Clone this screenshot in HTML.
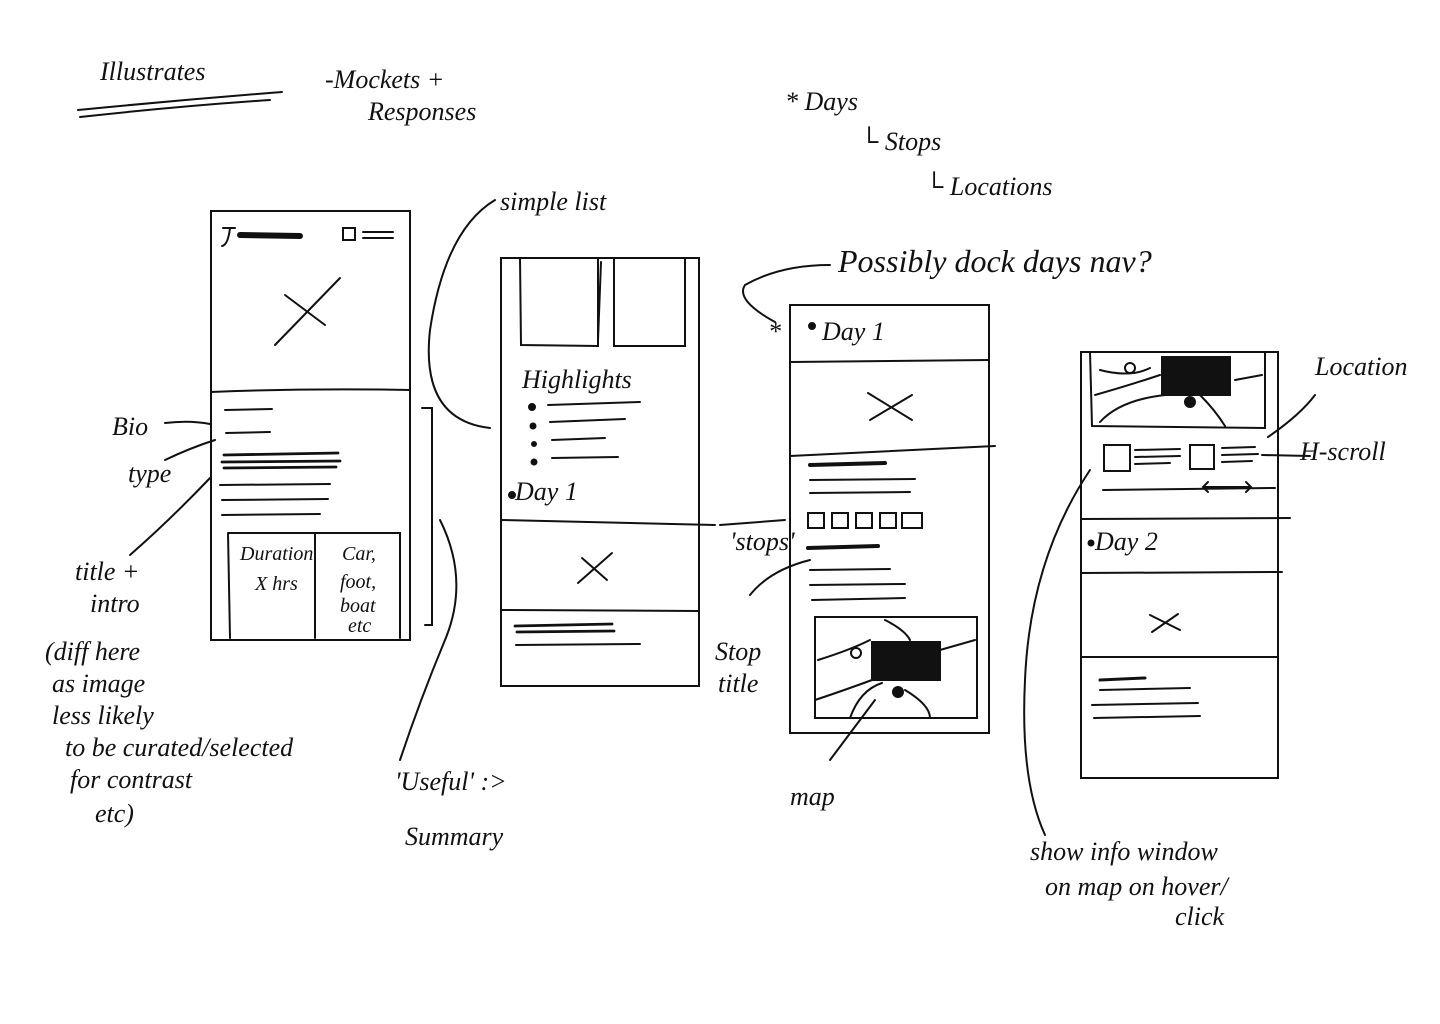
<!DOCTYPE html>
<html><head><meta charset="utf-8"><style>
html,body{margin:0;padding:0;background:#fff;}
svg{display:block;}
text{font-family:"Liberation Serif",serif;font-style:italic;fill:#111;}
</style></head><body>
<svg width="1440" height="1024" viewBox="0 0 1440 1024" xmlns="http://www.w3.org/2000/svg">
<g stroke="#111" fill="none" stroke-width="2" stroke-linecap="round">
<path d="M78 110 Q180 100 282 92"/><path d="M80 117 Q180 106 270 100"/>
<rect x="211" y="211" width="199" height="429"/>
<path d="M223 228 L235 228 M230 228 Q228 245 222 246"/>
<path d="M240 235 L300 236" stroke-width="6"/>
<rect x="343" y="228" width="12" height="12"/>
<path d="M363 232 L393 232 M363 238 L393 238"/>
<path d="M275 345 L340 278 M285 295 L325 325"/>
<path d="M211 392 Q310 388 410 390"/>
<path d="M225 410 L272 409 M226 433 L270 432"/>
<path d="M224 455 L338 453 M222 462 L340 461 M224 468 L336 467" stroke-width="2.8"/>
<path d="M220 485 L330 484 M222 500 L328 499 M222 515 L320 514"/>
<path d="M228 533 L400 533 L400 638 M228 533 L230 638 M315 533 L315 638"/>
<path d="M422 408 L432 408 L432 625 L425 625"/>
<rect x="501" y="258" width="198" height="428"/>
<path d="M520 258 L521 345 L598 346 L598 258 M614 258 L614 346 L685 346 L685 258"/>
<path d="M601 262 L598 340"/>
<circle cx="532" cy="407" r="3" fill="#111"/><circle cx="533" cy="426" r="2.5" fill="#111"/><circle cx="534" cy="444" r="2" fill="#111"/><circle cx="534" cy="462" r="2.5" fill="#111"/>
<path d="M548 405 L640 402 M550 422 L625 419 M552 440 L605 438 M552 458 L618 457"/>
<circle cx="512" cy="495" r="3" fill="#111"/>
<path d="M501 520 Q600 522 715 525"/>
<path d="M578 583 L612 553 M582 558 L607 580"/>
<path d="M501 610 L699 611"/>
<path d="M515 626 L612 624 M517 632 L614 631" stroke-width="2.8"/>
<path d="M516 645 L640 644"/>
<rect x="790" y="305" width="199" height="428"/>
<circle cx="812" cy="326" r="3" fill="#111"/>
<path d="M790 362 L989 360 M790 456 L995 446"/>
<path d="M868 393 L912 420 M870 420 L912 395"/>
<path d="M810 465 L885 463" stroke-width="4"/>
<path d="M810 480 L915 479 M810 493 L910 492"/>
<rect x="808" y="513" width="16" height="15"/><rect x="832" y="513" width="16" height="15"/><rect x="856" y="513" width="16" height="15"/><rect x="880" y="513" width="16" height="15"/><rect x="902" y="513" width="20" height="15"/>
<path d="M808 548 L878 546" stroke-width="4"/>
<path d="M810 570 L890 569 M810 585 L905 584 M812 600 L905 598"/>
<rect x="815" y="617" width="162" height="101"/>
<rect x="872" y="642" width="68" height="38" fill="#111"/>
<circle cx="898" cy="692" r="5" fill="#111"/>
<path d="M818 660 Q850 650 870 640 M815 700 Q845 690 872 680 M850 718 Q860 690 882 683 M905 690 Q930 705 930 718 M940 650 L975 640 M885 620 Q905 630 910 640"/>
<circle cx="856" cy="653" r="5"/>
<rect x="1081" y="352" width="197" height="426"/>
<path d="M1090 352 L1092 426 L1265 428 L1265 352"/>
<rect x="1162" y="357" width="68" height="38" fill="#111"/>
<circle cx="1190" cy="402" r="5" fill="#111"/>
<path d="M1095 395 Q1130 385 1160 375 M1100 422 Q1120 400 1165 395 M1200 395 Q1215 410 1225 426 M1235 380 L1262 375 M1100 370 Q1130 378 1150 368"/>
<circle cx="1130" cy="368" r="5"/>
<rect x="1104" y="445" width="26" height="26"/>
<path d="M1135 450 L1180 449 M1135 457 L1180 456 M1135 464 L1170 463"/>
<rect x="1190" y="445" width="24" height="24"/>
<path d="M1222 448 L1255 447 M1222 455 L1258 454 M1222 462 L1252 461"/>
<path d="M1103 490 L1275 488"/>
<path d="M1205 487 L1250 487 M1208 482 L1203 487 L1208 492 M1246 482 L1251 487 L1246 492"/>
<path d="M1081 519 L1290 518"/>
<circle cx="1091" cy="543" r="2.5" fill="#111"/>
<path d="M1081 573 L1282 572 M1081 657 L1278 657"/>
<path d="M1150 615 L1180 630 M1152 632 L1178 614"/>
<path d="M1100 680 L1145 678" stroke-width="3"/>
<path d="M1100 690 L1190 688 M1092 705 L1198 703 M1094 718 L1200 716"/>
<path d="M165 423 Q190 420 210 424"/>
<path d="M165 460 Q190 448 215 440"/>
<path d="M130 555 Q170 520 210 478"/>
<path d="M490 428 Q420 420 430 330 Q445 230 495 200"/>
<path d="M440 520 Q470 580 445 640 Q420 700 400 760"/>
<path d="M720 525 L785 520"/>
<path d="M750 595 Q770 570 810 560"/>
<path d="M830 760 L875 700"/>
<path d="M775 322 Q735 300 745 285 Q780 265 830 265"/>
<path d="M1268 437 Q1300 415 1315 395"/>
<path d="M1262 455 L1310 456"/>
<path d="M1090 470 Q1030 560 1025 680 Q1020 780 1045 835"/>
</g>
<g font-size="26">
<text x="100" y="80">Illustrates</text>
<text x="325" y="88">-Mockets +</text>
<text x="368" y="120">Responses</text>
<text x="785" y="110">* Days</text>
<text x="860" y="150">└ Stops</text>
<text x="925" y="195">└ Locations</text>
<text x="500" y="210">simple list</text>
<text x="838" y="272" font-size="32">Possibly dock days nav?</text>
<text x="768" y="340">*</text>
<text x="822" y="340">Day 1</text>
<text x="522" y="388">Highlights</text>
<text x="515" y="500">Day 1</text>
<text x="1095" y="550">Day 2</text>
<text x="1315" y="375">Location</text>
<text x="1300" y="460">H-scroll</text>
<text x="112" y="435">Bio</text>
<text x="128" y="482">type</text>
<text x="75" y="580">title +</text>
<text x="90" y="612">intro</text>
<text x="45" y="660">(diff here</text>
<text x="52" y="692">as image</text>
<text x="52" y="724">less likely</text>
<text x="65" y="756">to be curated/selected</text>
<text x="70" y="788">for contrast</text>
<text x="95" y="822">etc)</text>
<text x="240" y="560" font-size="20">Duration</text>
<text x="342" y="560" font-size="20">Car,</text>
<text x="255" y="590" font-size="20">X hrs</text>
<text x="340" y="588" font-size="20">foot,</text>
<text x="340" y="612" font-size="20">boat</text>
<text x="348" y="632" font-size="20">etc</text>
<text x="730" y="550">'stops'</text>
<text x="715" y="660">Stop</text>
<text x="718" y="692">title</text>
<text x="395" y="790">'Useful' :&gt;</text>
<text x="405" y="845">Summary</text>
<text x="790" y="805">map</text>
<text x="1030" y="860">show info window</text>
<text x="1045" y="895">on map on hover/</text>
<text x="1175" y="925">click</text>
</g>
</svg>
</body></html>
